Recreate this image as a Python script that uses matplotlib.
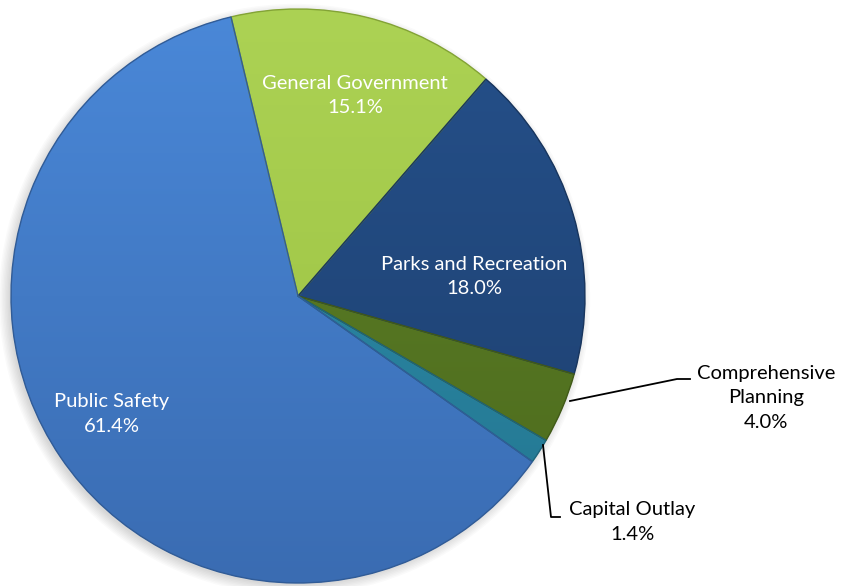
import numpy as np
import matplotlib
matplotlib.use("Agg")
import matplotlib.pyplot as plt
from matplotlib.colors import to_rgb
from matplotlib.patches import PathPatch, Circle

plt.rcParams['font.family'] = ['Lato', 'DejaVu Sans']

categories = ["General Government", "Parks and Recreation", "Comprehensive\nPlanning",
              "Capital Outlay", "Public Safety"]
shares = [15.1, 18.0, 4.0, 1.4, 61.4]
pct_labels = ["15.1%", "18.0%", "4.0%", "1.4%", "61.4%"]

# light (top) / dark (bottom) tones per slice
tones_light = ["#acd254", "#25508a", "#5f8229", "#2f8fae", "#4a88d8"]
tones_dark = ["#9ac040", "#1d3f6e", "#4c6a1c", "#237690", "#3a6cb2"]

W, H = 841, 586
fig = plt.figure(figsize=(W / 100, H / 100), dpi=100)
ax = fig.add_axes([0, 0, 1, 1])
R = 287.0
cx, cy = 298.0, 296.0

# soft drop shadow, offset down-left
for k in range(8):
    ax.add_patch(Circle((-0.012, -0.012), 0.995 + 0.005 * k, color="black",
                        alpha=0.02, zorder=0, lw=0))

wedges, _ = ax.pie(shares, startangle=103.5, counterclock=False, radius=1.0,
                   colors=tones_dark, wedgeprops=dict(linewidth=0))

# vertical gradient clipped to each wedge, with a darker rim
yy = np.linspace(1, 0, 256)[:, None]
for w, c1, c2 in zip(wedges, tones_light, tones_dark):
    a, b = np.array(to_rgb(c1)), np.array(to_rgb(c2))
    grad = a[None, None, :] * yy[..., None] + b[None, None, :] * (1 - yy[..., None])
    grad = np.repeat(grad, 2, axis=1)
    im = ax.imshow(grad, extent=(-1, 1, -1, 1), origin="upper", zorder=2,
                   interpolation="bilinear", aspect="auto")
    im.set_clip_path(w)
    w.set_zorder(1)
    ax.add_patch(PathPatch(w.get_path(), transform=w.get_transform(), fill=False,
                           edgecolor=tuple(np.clip(b * 0.85, 0, 1)), lw=1.0,
                           zorder=3))

ax.set_xlim(-cx / R, (W - cx) / R)
ax.set_ylim((cy - H) / R, cy / R)
ax.set_aspect("equal")
ax.axis("off")


def px(x, y):
    return ((x - cx) / R, (cy - y) / R)


txt = dict(fontsize=14.5, ha="center", va="center", linespacing=1.5, zorder=5)

# labels inside the slices
inside = {0: (355, 96), 1: (474, 277), 4: (112, 414)}
for i, (x, y) in inside.items():
    ax.text(*px(x, y), f"{categories[i]}\n{pct_labels[i]}", color="white", **txt)

# outside labels with leader lines
ax.plot(*zip(px(570, 401), px(677, 379), px(690, 379)), color="black", lw=1.3, zorder=5)
ax.text(*px(766, 398), f"{categories[2]}\n{pct_labels[2]}", color="black", **txt)

ax.plot(*zip(px(543, 445), px(551, 517), px(560, 517)), color="black", lw=1.3, zorder=5)
ax.text(*px(632, 522), f"{categories[3]}\n{pct_labels[3]}", color="black", **txt)

fig.savefig("out.png", dpi=100)
